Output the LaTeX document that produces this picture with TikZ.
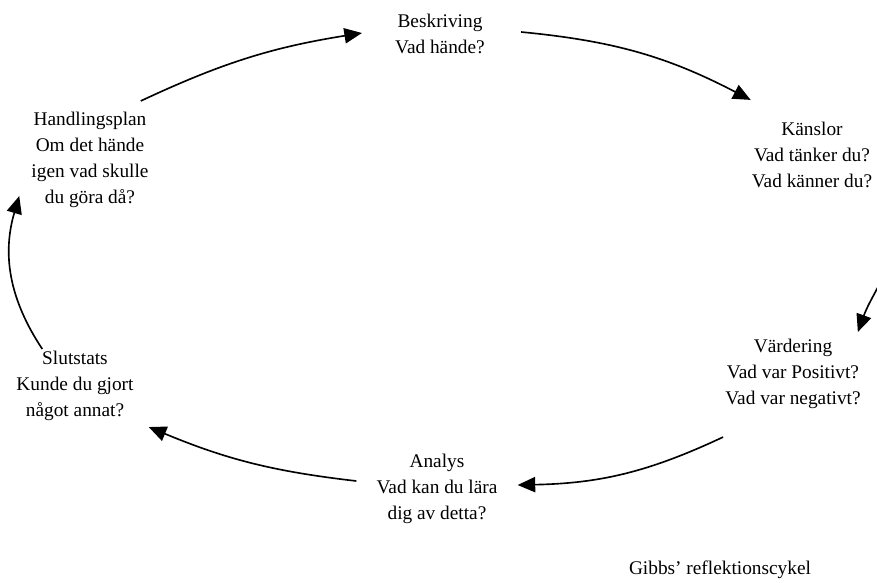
\documentclass[tikz,border=0pt]{standalone}
\usepackage{fontspec}
\setmainfont{Liberation Serif}
\usetikzlibrary{arrows.meta,calc}
\tikzstyle{stage}=[align=center,inner sep=0pt,font=\fontsize{16.5}{22.2}\selectfont]
\tikzstyle{cycle}=[-{Triangle[length=15,width=13]},line width=1.4pt]

\begin{document}
\begin{tikzpicture}[x=0.03cm,y=0.03cm]
                    \useasboundingbox (0,0) rectangle (877,-582);
                    \clip (0,0) rectangle (877,-582);
                    \node (besk) at (440,-34) [stage] {Beskriving\\Vad hände?};
                    \node (kans) at (812,-155) [stage] {Känslor\\Vad tänker du?\\Vad känner du?};
                    \node (verd) at (793,-374) [stage] {Värdering\\Vad var Positivt?\\Vad var negativt?};
                    \node (ana) at (437,-489) [stage] {Analys\\Vad kan du lära\\dig av detta?};
                    \node (slut) at (75,-386) [stage] {Slutstats\\Kunde du gjort\\något annat?};
                    \node (hand) at (90,-160) [stage] {Handlingsplan\\Om det hände\\igen vad skulle\\du göra då?};
                    \node (cap) at (720,-570) [stage] {Gibbs’ reflektionscykel};

                    \draw [cycle] ($(hand.north east)+(-8,11)$) to[bend left=8] ($(besk.west)+(-33,1)$);
                    \draw [cycle] ($(besk.east)+(36,2)$) to[bend left=11] ($(kans.north west)+(-1,22)$);
                    \draw [cycle] ($(kans.south east)+(6,-21)$) to[out=-40,in=70] ($(verd.north east)+(-3,7)$);
                    \draw [cycle] ($(verd.south west)+(-2,-28)$) to[bend left=12] ($(ana.east)+(20,4)$);
                    \draw [cycle] ($(ana.west)+(-20,8)$) to[bend left=8] ($(slut.south east)+(15,-6)$);
                    \draw [cycle] ($(slut.north west)+(26,2)$) to[bend left=25] ($(hand.south west)+(-12,12)$);
                \end{tikzpicture}
\end{document}
